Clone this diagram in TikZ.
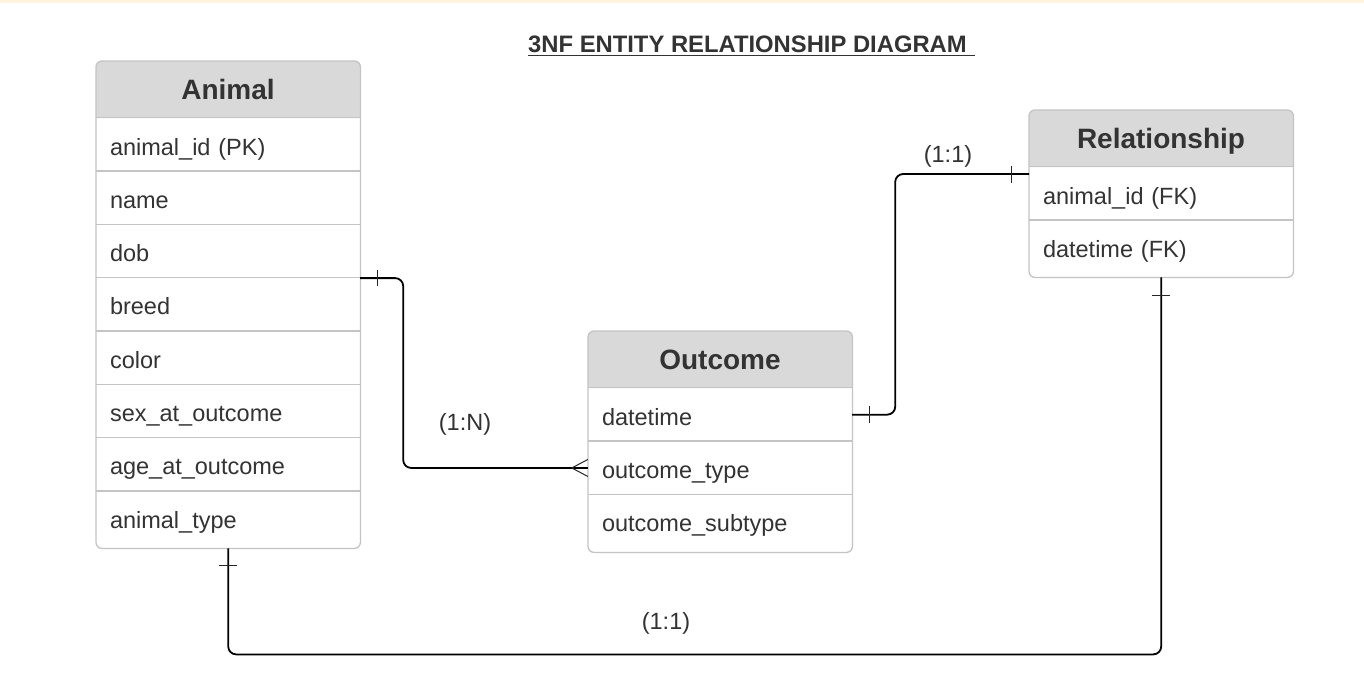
\documentclass[tikz,border=0pt]{standalone}
\usepackage{fontspec}
\setmainfont{Liberation Sans}
\usetikzlibrary{calc}
\definecolor{hdr}{HTML}{D9D9D9}
\definecolor{bord}{HTML}{C4C4C4}
\definecolor{txt}{HTML}{333333}
\definecolor{topbar}{HTML}{FFF4DD}
\begin{document}
\begin{tikzpicture}[x=1pt,y=-1pt,
  tblbox/.style={rectangle, draw=none, fill=white, inner sep=0pt, anchor=north west},
  field/.style={rectangle, minimum width=264pt, minimum height=53.3pt, inner xsep=14pt, inner ysep=0pt, text width=236pt, text height=21.5pt, text depth=0.8pt, align=left, font=\fontsize{23.5}{27}\selectfont, text=txt},
  hdrtext/.style={font=\fontsize{28}{32}\selectfont\bfseries, text=txt, text height=20pt, text depth=0pt, inner sep=0pt},
  sepline/.style={draw=bord, line width=1.3pt},
  border/.style={draw=bord, line width=1.3pt, rounded corners=6pt},
  conn/.style={draw=black, line width=1.8pt, rounded corners=8pt},
  tickmark/.style={draw=black!85, line width=1pt},
  lbl/.style={font=\fontsize{23.5}{27}\selectfont, text=txt}]
\useasboundingbox (0,0) rectangle (1364,697);
\fill[white] (0,0) rectangle (1364,697);
\fill[topbar] (0,0) rectangle (1364,3);

% Title
\node[font=\fontsize{23.8}{27}\selectfont\bfseries, text=txt, inner sep=0pt, anchor=base west] (title) at (528,52) {3NF ENTITY RELATIONSHIP DIAGRAM};
\draw[txt, line width=1.6pt] ($(title.base west)+(0,3.5)$) -- ++(447,0);

% ---------- Animal ----------
\node[tblbox, minimum width=264pt, minimum height=487pt] (animal) at (96,61) {};
\fill[hdr] (96,118) [rounded corners=6pt] -- (96,61) -- (360,61) [sharp corners] -- (360,118) -- cycle;
\node[hdrtext] (animalH) at (228,89.5) {Animal};
\node[field] (a1) at (228,144.65) {animal\_id (PK)};
\node[field] (a2) at (228,197.95) {name};
\node[field] (a3) at (228,251.25) {dob};
\node[field] (a4) at (228,304.55) {breed};
\node[field] (a5) at (228,357.85) {color};
\node[field] (a6) at (228,411.15) {sex\_at\_outcome};
\node[field] (a7) at (228,464.45) {age\_at\_outcome};
\node[field] (a8) at (228,517.75) {animal\_type};
\foreach \r in {a1,a2,a3,a4,a5,a6,a7,a8} \draw[sepline] (\r.north west) -- (\r.north east);
\draw[border] (animal.north west) rectangle (animal.south east);

% ---------- Relationship ----------
\node[tblbox, minimum width=264pt, minimum height=167pt] (relat) at (1029,110) {};
\fill[hdr] (1029,167) [rounded corners=6pt] -- (1029,110) -- (1293,110) [sharp corners] -- (1293,167) -- cycle;
\node[hdrtext] (relatH) at (1161,138.5) {Relationship};
\node[field] (r1) at (1161,193.65) {animal\_id (FK)};
\node[field] (r2) at (1161,246.95) {datetime (FK)};
\foreach \r in {r1,r2} \draw[sepline] (\r.north west) -- (\r.north east);
\draw[border] (relat.north west) rectangle (relat.south east);

% ---------- Outcome ----------
\node[tblbox, minimum width=264pt, minimum height=221pt] (outc) at (588,331) {};
\fill[hdr] (588,388) [rounded corners=6pt] -- (588,331) -- (852,331) [sharp corners] -- (852,388) -- cycle;
\node[hdrtext] (outcH) at (720,359.5) {Outcome};
\node[field] (o1) at (720,414.65) {datetime};
\node[field] (o2) at (720,467.95) {outcome\_type};
\node[field] (o3) at (720,521.25) {outcome\_subtype};
\foreach \r in {o1,o2,o3} \draw[sepline] (\r.north west) -- (\r.north east);
\draw[border] (outc.north west) rectangle (outc.south east);

\coordinate (rin) at (1029,174);

% ---------- Connectors ----------
\draw[conn] (a3.south east) -- ++(43,0) |- (o2.west);
\draw[conn] (o1.east) -- ++(43,0) |- (rin);
\draw[conn] (animal.south) -- ++(0,106) -| (relat.south);

% ticks and crow's foot
\draw[tickmark] ($(a3.south east)+(17,-8)$) -- ++(0,16);
\draw[tickmark] ($(o2.west)+(0,-8.5)$) -- ($(o2.west)+(-16,0)$) -- ($(o2.west)+(0,8.5)$);
\draw[tickmark] ($(o1.east)+(17,-8.5)$) -- ++(0,17);
\draw[tickmark] ($(rin)+(-18,-8.5)$) -- ++(0,17);
\draw[tickmark] ($(animal.south)+(-9,17)$) -- ++(18,0);
\draw[tickmark] ($(relat.south)+(-9,18)$) -- ++(18,0);

% labels
\node[lbl] (l1) at (465,424.5) {(1:N)};
\node[lbl] (l2) at (948,156.5) {(1:1)};
\node[lbl] (l3) at (666,623.5) {(1:1)};
\end{tikzpicture}
\end{document}
